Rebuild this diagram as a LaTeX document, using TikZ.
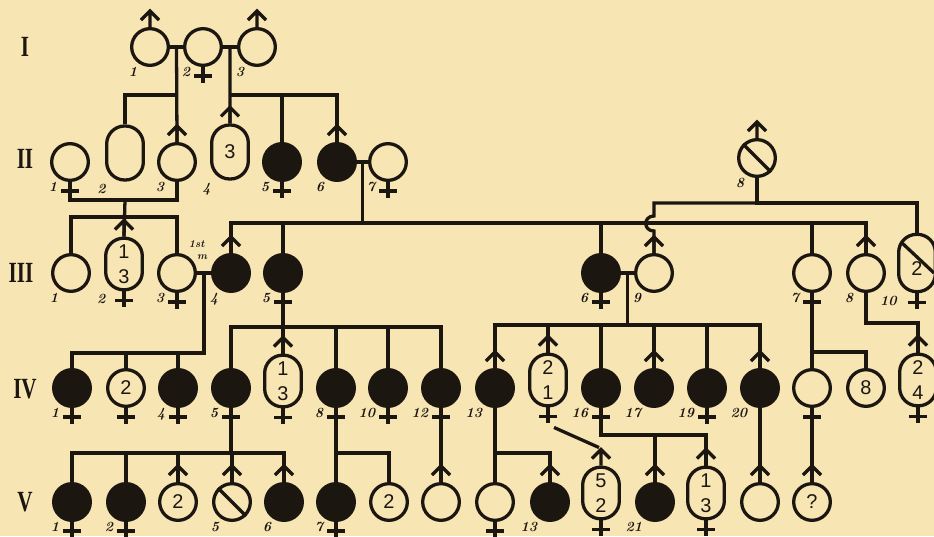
\documentclass[tikz,border=0pt]{standalone}
\usepackage{fontspec}
\usepackage{graphicx}
\setsansfont{Liberation Sans}
\newfontfamily\genfont{Liberation Serif}
\usetikzlibrary{calc}

\definecolor{paper}{RGB}{247,229,180}
\definecolor{ink}{RGB}{28,22,16}

\newcommand{\genname}[1]{\scalebox{0.72}[1]{#1}}

\begin{document}
\begin{tikzpicture}[
    x=0.03cm, y=-0.03cm, % one unit = one pixel of the scan, y runs down
    color=ink,
    line width=2.8pt,
    person/.style={
        circle,
        draw,
        inner sep=0pt,
        minimum size=1.1cm,
        font=\sffamily\fontsize{17}{20}\selectfont
    },
    ill/.style={person, fill=ink},
    oval/.style={
        rectangle,
        draw,
        rounded corners=0.54cm,
        inner sep=0pt,
        minimum width=1.1cm,
        minimum height=1.55cm,
        align=center,
        font=\sffamily\fontsize{17}{21}\selectfont
    },
    lbl/.style={draw=none, fill=none, inner sep=1pt, font=\bfseries\itshape\fontsize{12}{12}\selectfont},
    gen/.style={font=\genfont\bfseries\fontsize{25}{25}\selectfont}
]

\path[use as bounding box, fill=paper] (0,0) rectangle (934,536);

% --- GENERATION LABELS ---
\node[gen] (gI)   at (25,47)  {\genname{I}};
\node[gen] (gII)  at (25,159) {\genname{II}};
\node[gen] (gIII) at (21,273) {\genname{III}};
\node[gen] (gIV)  at (25,389) {\genname{IV}};
\node[gen] (gV)   at (25,502) {\genname{V}};

% --- GENERATION I ---
\node[person, label={[lbl]-120:1}] (I1) at (150,47) {};
\node[person, label={[lbl]-120:2}] (I2) at (203,47) {};
\node[person, label={[lbl]-120:3}] (I3) at (257,47) {};

% --- GENERATION II ---
\node[person, label={[lbl]-120:1}] (II1) at (70,162) {};
\node[oval, minimum height=1.62cm, label={[lbl]-120:2}] (II2) at (125,153) {};
\node[person, label={[lbl]-120:3}] (II3) at (177,162) {};
\node[oval, minimum height=1.62cm, label={[lbl]-120:4}] (II4) at (230,152) {3};
\node[ill, label={[lbl]-120:5}] (II5) at (282,162) {};
\node[ill, label={[lbl]-120:6}] (II6) at (337,162) {};
\node[person, label={[lbl]-120:7}] (II7) at (388,162) {};
\node[person, label={[lbl]-120:8}] (II8) at (757,158) {};

% --- GENERATION III ---
\node[person, label={[lbl]-120:1}] (III1) at (71,273) {};
\node[oval, label={[lbl]-120:2}] (III2) at (124,264) {1\\3};
\node[person, label={[lbl]-120:3}] (III3) at (177,273) {};
\node[lbl, align=left, font=\bfseries\itshape\fontsize{9}{10}\selectfont] (first) at (198,250) {1st\\\hspace{7pt}m};
\node[ill, label={[lbl]-120:4}] (III4) at (231,273) {};
\node[ill, label={[lbl]-120:5}] (III5) at (283,273) {};
\node[ill, label={[lbl]-120:6}] (III6) at (601,273) {};
\node[person, label={[lbl]-120:9}] (III9) at (654,273) {};
\node[person, label={[lbl]-120:7}] (III7) at (812,273) {};
\node[person, label={[lbl]-120:8}] (III8) at (866,273) {};
\node[oval, minimum height=1.72cm, label={[lbl]-120:10}] (III10) at (917,263) {\mbox{}\\2};

% --- GENERATION IV ---
\node[ill, label={[lbl]-120:1}] (IV1) at (72,388) {};
\node[person] (IV2) at (126,388) {2};
\node[ill, label={[lbl]-120:4}] (IV4) at (178,388) {};
\node[ill, label={[lbl]-120:5}] (IV5) at (231,388) {};
\node[oval] (IVa) at (283,381) {1\\3};
\node[ill, label={[lbl]-120:8}] (IV8) at (336,388) {};
\node[ill, label={[lbl]-120:10}] (IV10) at (388,388) {};
\node[ill, label={[lbl]-120:12}] (IV12) at (441,388) {};
\node[ill, label={[lbl]-120:13}] (IV13) at (495,388) {};
\node[oval] (IVb) at (548,380) {2\\1};
\node[ill, label={[lbl]-120:16}] (IV16) at (601,388) {};
\node[ill, label={[lbl]-120:17}] (IV17) at (654,388) {};
\node[ill, label={[lbl]-120:19}] (IV19) at (707,388) {};
\node[ill, label={[lbl]-120:20}] (IV20) at (760,388) {};
\node[person] (IVc) at (812,388) {};
\node[person] (IVd) at (866,388) {8};
\node[oval] (IVe) at (918,380) {2\\4};

% --- GENERATION V ---
\node[ill, label={[lbl]-120:1}] (V1) at (72,502) {};
\node[ill, label={[lbl]-120:2}] (V2) at (126,502) {};
\node[person] (Va) at (178,502) {2};
\node[person, label={[lbl]-120:5}] (V5) at (232,502) {};
\node[ill, label={[lbl]-120:6}] (V6) at (284,502) {};
\node[ill, label={[lbl]-120:7}] (V7) at (336,502) {};
\node[person] (Vb) at (389,502) {2};
\node[person] (Vc) at (441,502) {};
\node[person] (Vd) at (495,502) {};
\node[ill, label={[lbl]-120:13}] (V13) at (550,502) {};
\node[oval] (Ve) at (601,493) {5\\2};
\node[ill, label={[lbl]-120:21}] (V21) at (655,502) {};
\node[oval] (Vf) at (706,493) {1\\3};
\node[person] (Vg) at (760,502) {};
\node[person] (Vh) at (812,502) {?};

% --- SEX MARKS ---
\foreach \n in {I1,I3,II3,II4,II6,II8,III2,III4,III9,III8,IVa,IV13,IVb,IV17,IV20,IVe,
                Va,V5,V6,Vc,V13,Ve,V21,Vf,Vg,Vh}
    \draw (\n.north) -- ++(0,-16) ++(-9,9) -- ++(9,-9) -- ++(9,9);
\foreach \n in {I2,II1,II5,II7,III2,III3,III5,III6,III7,III10,IV1,IV2,IV4,IV5,IVa,IV8,IV10,
                IV12,IVb,IV16,IV19,IVc,IVe,V1,V2,V7,Vd,Ve,Vf}
    \draw (\n.south) -- ++(0,16) ++(-9,-7) -- ++(18,0);

% slashed symbols
\draw (II8.north west) -- (II8.south east);
\draw (V5.north west) -- (V5.south east);
\draw ($(III10.center)+(-16,-21)$) -- ($(III10.center)+(17,10)$);

% --- CONNECTIONS ---
% I-1 x I-2 and I-2 x I-3
\draw (I1) -- (I2);
\draw (I2) -- (I3);
\coordinate (m12) at ($(I1.east)!.5!(I2.west)$);
\coordinate (m23) at ($(I2.east)!.5!(I3.west)$);
\coordinate (rII) at (0,95);
\draw (m12) -- (II3.north);
\draw (II2.north) |- (m12 |- rII);
\draw (m23) -- (II4.north);
\draw (m23 |- rII) -| (II6.north);
\draw (II5.north) -- (II5.north |- rII);

% II-1 x II-3
\coordinate (m13) at (125,200);
\coordinate (rIII1) at (0,217);
\draw (II1.south) |- (m13) -| (II3.south);
\draw (m13) -- (III2.north);
\draw (III1.north) |- (m13 |- rIII1) -| (III3.north);

% II-6 x II-7
\draw (II6) -- (II7);
\coordinate (m67) at ($(II6.east)!.5!(II7.west)$);
\coordinate (rIII2) at (0,223);
\draw (m67) -- (m67 |- rIII2);
\draw (III4.north) |- (m67 |- rIII2) -| (III8.north);
\foreach \n in {III5,III6,III7}
    \draw (\n.north) -- (\n.north |- rIII2);

% II-8, crossing the line above with a small jump
\coordinate (rIII3) at (0,203);
\coordinate (j1) at (654,216);
\coordinate (j2) at (654,231);
\draw (II8.south) |- (III10.north |- rIII3) -- (III10.north);
\draw (II8.south |- rIII3) -| (j1) .. controls +(-11,0) and +(-11,0) .. (j2) -- (III9.north);

% III-3 x III-4
\draw (III3) -- (III4);
\coordinate (m34) at ($(III3.east)!.5!(III4.west)$);
\coordinate (rIV1) at (0,353);
\draw (m34) |- (IV1.north |- rIV1) -- (IV1.north);
\foreach \n in {IV2,IV4}
    \draw (\n.north) -- (\n.north |- rIV1);

% III-5
\coordinate (rIV2) at (0,327);
\draw (III5.south) -- (III5.south |- rIV2);
\draw (IV5.north) |- (III5.south |- rIV2) -| (IV12.north);
\foreach \n in {IVa,IV8,IV10}
    \draw (\n.north) -- (\n.north |- rIV2);

% III-6 x III-9
\draw (III6) -- (III9);
\coordinate (m69) at ($(III6.east)!.5!(III9.west)$);
\coordinate (rIV3) at (0,325);
\draw (m69) -- (m69 |- rIV3);
\draw (IV13.north) |- (m69 |- rIV3) -| (IV20.north);
\foreach \n in {IVb,IV16,IV17,IV19}
    \draw (\n.north) -- (\n.north |- rIV3);

% III-7 and III-8
\coordinate (rIV4) at (0,352);
\coordinate (rIV5) at (0,323);
\draw (III7.south) -- (IVc.north);
\draw (III7.south |- rIV4) -| (IVd.north);
\draw (III8.south) |- (IVe.north |- rIV5) -- (IVe.north);

% IV-5
\coordinate (rV1) at (0,453);
\draw (IV5.south) -- (IV5.south |- rV1);
\draw (V1.north) |- (IV5.south |- rV1) -| (V6.north);
\foreach \n in {V2,Va,V5}
    \draw (\n.north) -- (\n.north |- rV1);

% IV-8, IV-12, IV-13
\draw (IV8.south) -- (V7.north);
\draw (IV8.south |- rV1) -| (Vb.north);
\draw (IV12.south) -- (Vc.north);
\draw (IV13.south) -- (Vd.north);
\draw (IV13.south |- rV1) -| (V13.north);

% IV oval 2/1
\draw ($(IVb.south)+(6,20)$) -- ($(Ve.north)+(-2,-18)$);

% IV-16, IV-20, IV open circle
\coordinate (rV2) at (0,435);
\draw (IV16.south) |- (V21.north |- rV2) -| (Vf.north);
\draw (V21.north) -- (V21.north |- rV2);
\draw (IV20.south) -- (Vg.north);
\draw (IVc.south) -- (Vh.north);

\end{tikzpicture}
\end{document}
